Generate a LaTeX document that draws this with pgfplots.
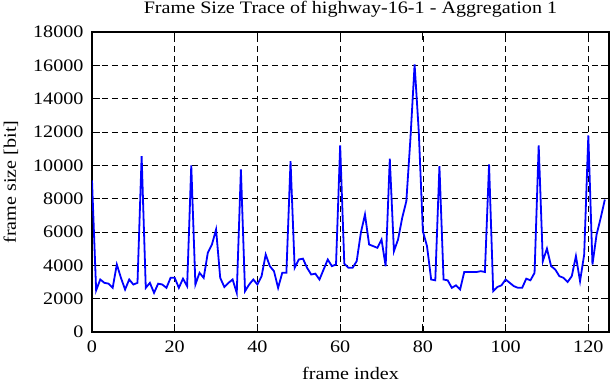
\documentclass[border=0pt]{standalone}
\usepackage{fontspec}
\setmainfont{Liberation Serif}[FakeStretch=1.15]
\usepackage{pgfplots}
\pgfplotsset{compat=1.18}
\begin{document}
\begin{tikzpicture}
\begin{axis}[name=ax,
  scale only axis, width=517bp, height=300bp,
  xmin=0, xmax=125, ymin=0, ymax=18000,
  xtick={0,20,...,120}, ytick={0,2000,...,18000},
  tick align=inside, tick pos=both, major tick length=8bp,
  tick style={black, line width=0.8bp},
  grid=major,
  major grid style={black, line width=0.6bp, dash pattern=on 6bp off 4bp},
  axis line style={line width=1.2bp},
  font=\fontsize{17.5bp}{20bp}\selectfont,
  scaled y ticks=false,
  /pgf/number format/assume math mode=true,
  /pgf/number format/1000 sep={},
  xticklabel style={anchor=base, yshift=-20bp},
  yticklabel style={anchor=east, xshift=-5bp},
  every axis title shift=0pt,
  title={Frame Size Trace of highway-16-1 - Aggregation 1},
  title style={at={(axis description cs:0.5,1)}, anchor=base, inner sep=0pt, yshift=18bp},
  xlabel={frame index},
  xlabel style={at={(axis description cs:0.5,0)}, anchor=base, inner sep=0pt, yshift=-47bp},
  ylabel={frame size [bit]},
  ylabel style={at={(axis description cs:-0.147,0.5)}, anchor=base, inner sep=0pt},
]
\addplot[color=blue, line width=1.8bp] table {
x y
0 9100
1 2500
2 3150
3 2950
4 2900
5 2650
6 4050
7 3250
8 2550
9 3150
10 2850
11 2950
12 10550
13 2650
14 2950
15 2350
16 2900
17 2850
18 2650
19 3250
20 3250
21 2650
22 3200
23 2750
24 10000
25 2850
26 3550
27 3250
28 4750
29 5250
30 6150
31 3250
32 2700
33 2950
34 3150
35 2350
36 9750
37 2450
38 2850
39 3150
40 2850
41 3350
42 4650
43 3950
44 3650
45 2650
46 3550
47 3550
48 10250
49 3850
50 4350
51 4400
52 3850
53 3450
54 3500
55 3150
56 3750
57 4350
58 3950
59 4050
60 11200
61 4100
62 3850
63 3850
64 4250
65 5950
66 7050
67 5250
68 5150
69 5050
70 5550
71 3950
72 10400
73 4850
74 5550
75 6850
76 7850
77 11650
78 16050
79 12050
80 6050
81 5150
82 3150
83 3100
84 9950
85 3150
86 3100
87 2650
88 2800
89 2550
90 3600
91 3600
92 3600
93 3600
94 3650
95 3600
96 10050
97 2450
98 2700
99 2800
100 3150
101 2950
102 2750
103 2650
104 2650
105 3200
106 3100
107 3550
108 11200
109 4250
110 5000
111 3950
112 3750
113 3350
114 3250
115 3000
116 3350
117 4550
118 3050
119 4650
120 11800
121 4050
122 5850
123 6850
124 7950
};
\end{axis}
\pgfresetboundingbox
\path[use as bounding box] ([xshift=-92bp,yshift=-50bp]ax.south west) rectangle ++(612bp,382bp);
\end{tikzpicture}
\end{document}
